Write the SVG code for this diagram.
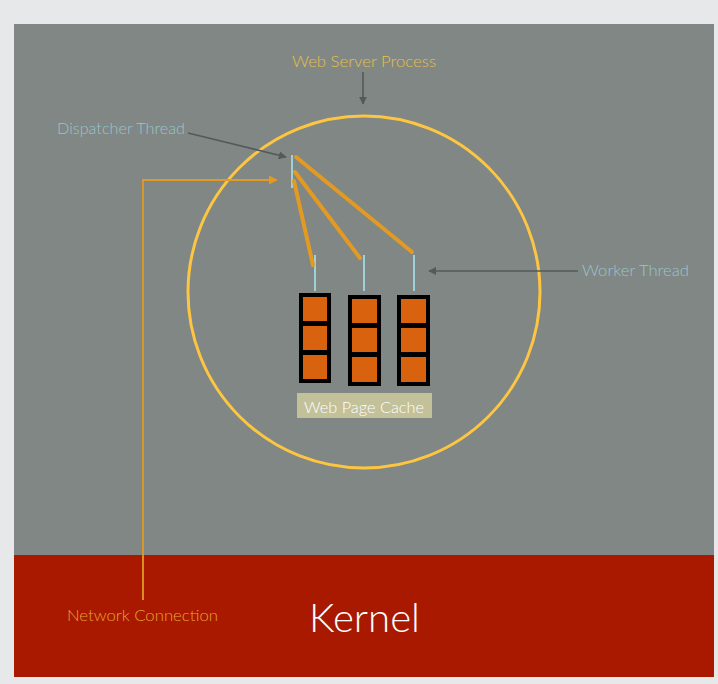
<svg xmlns="http://www.w3.org/2000/svg" width="718" height="684" viewBox="0 0 718 684">
<defs>
<marker id="ag" viewBox="0 0 10 10" refX="9" refY="5" markerWidth="5" markerHeight="5" orient="auto"><path d="M0,0 L10,5 L0,10 z" fill="#555a58"/></marker>
<marker id="ao" viewBox="0 0 10 10" refX="9" refY="5" markerWidth="5" markerHeight="5" orient="auto"><path d="M0,0 L10,5 L0,10 z" fill="#e39a22"/></marker>
</defs>
<style>
text{font-family:Lato,"Open Sans","Liberation Sans",sans-serif;font-weight:300}
.lbl{font-size:16px}
.blue{fill:#96c6cc}
.tick{stroke:#9fd0d6;stroke-width:2}
.thr{stroke:#e39a22;stroke-width:4;stroke-linecap:round;fill:none}
.ga{stroke:#555a58;stroke-width:1.6;fill:none;marker-end:url(#ag)}
.col{fill:#000}
.sq{fill:#d9620e}
</style>
<rect x="0" y="0" width="718" height="684" fill="#e6e8ea"/>
<rect x="14" y="24" width="700" height="531" fill="#818784"/>
<g id="kernel">
<rect x="14" y="555" width="700" height="122" fill="#a81900"/>
<text x="309" y="632" font-size="40" fill="#ffffff" textLength="111" lengthAdjust="spacingAndGlyphs">Kernel</text>
</g>
<g id="process">
<ellipse cx="364" cy="292" rx="176" ry="176" fill="none" stroke="#fcc542" stroke-width="3"/>
<text class="lbl" x="292" y="67" fill="#e6c04a" textLength="144" lengthAdjust="spacingAndGlyphs">Web Server Process</text>
</g>
<g id="dispatcher">
<line class="tick" x1="292" y1="155" x2="292" y2="188"/>
<text class="lbl blue" x="57" y="134" textLength="128" lengthAdjust="spacingAndGlyphs">Dispatcher Thread</text>
</g>
<g id="workers">
<line class="tick" x1="315" y1="255" x2="315" y2="291"/>
<line class="tick" x1="364" y1="255" x2="364" y2="291"/>
<line class="tick" x1="414" y1="255" x2="414" y2="291"/>
<text class="lbl blue" x="582" y="276" textLength="107" lengthAdjust="spacingAndGlyphs">Worker Thread</text>
</g>
<g id="cache">
<rect class="col" x="299" y="293" width="32" height="90"/>
<rect class="sq" x="303" y="297" width="24" height="24"/>
<rect class="sq" x="303" y="326" width="24" height="24"/>
<rect class="sq" x="303" y="355" width="24" height="24"/>
<rect class="col" x="348" y="295" width="33" height="91"/>
<rect class="sq" x="352" y="299" width="25" height="24"/>
<rect class="sq" x="352" y="328" width="25" height="24"/>
<rect class="sq" x="352" y="357" width="25" height="25"/>
<rect class="col" x="397" y="295" width="33" height="91"/>
<rect class="sq" x="401" y="299" width="25" height="24"/>
<rect class="sq" x="401" y="328" width="25" height="24"/>
<rect class="sq" x="401" y="357" width="25" height="25"/>
<rect x="297" y="393" width="135" height="25" fill="#c3c199"/>
<text class="lbl" x="304" y="413" fill="#ffffff" textLength="120" lengthAdjust="spacingAndGlyphs">Web Page Cache</text>
</g>
<g id="network">
<text class="lbl" x="67" y="621" fill="#e8a234" textLength="151" lengthAdjust="spacingAndGlyphs">Network Connection</text>
</g>
<g id="connectors">
<path class="thr" d="M296,157 L412,252"/>
<path class="thr" d="M295,172 L360,258"/>
<path class="thr" d="M294,181 L313,265"/>
<path class="ga" d="M363,72 L363,104"/>
<path class="ga" d="M188,133 L286,157"/>
<path class="ga" d="M578,271 L429,271"/>
<path d="M143,600 L143,180 L277,180" fill="none" stroke="#e39a22" stroke-width="1.8" marker-end="url(#ao)"/>
</g>
</svg>
